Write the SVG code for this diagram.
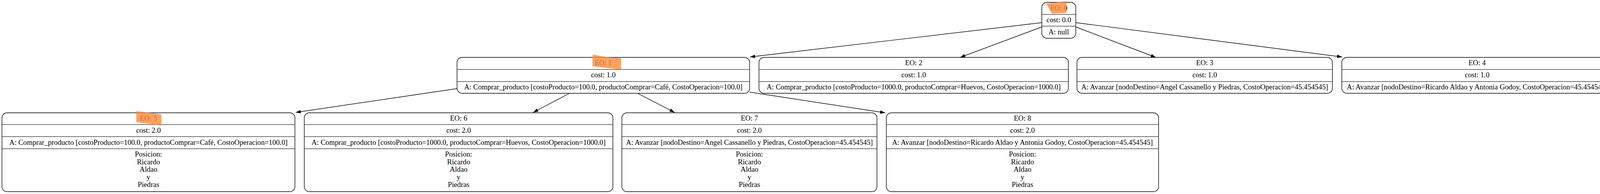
<svg xmlns="http://www.w3.org/2000/svg" width="4136" height="497" viewBox="0 0 4136 497">
<style>
.box{fill:#fff;stroke:#000;stroke-width:1.4}
.div{stroke:#444;stroke-width:1.6}
.t{font-family:"Liberation Serif","Times New Roman",serif;font-size:18.67px;fill:#000;text-anchor:middle}
.edge{stroke:#000;stroke-width:1.4;fill:none;marker-end:url(#arr)}
.hl{fill:#fb8b3a;fill-opacity:0.8;stroke:none}
</style>
<defs>
<marker id="arr" markerUnits="userSpaceOnUse" markerWidth="14" markerHeight="10" refX="13" refY="4.5" orient="auto">
<path d="M0,0 L13,4.5 L0,9 z" fill="#000"/>
</marker>
</defs>
<rect width="4136" height="497" fill="#fff"/>
<g id="connectors">
<line class="edge" x1="2667" y1="58" x2="1920" y2="146"/>
<line class="edge" x1="2667" y1="69" x2="2458" y2="147"/>
<line class="edge" x1="2754" y1="69" x2="2959" y2="147"/>
<line class="edge" x1="2754" y1="58" x2="3436" y2="146"/>
<line class="edge" x1="1170" y1="227" x2="757" y2="288"/>
<line class="edge" x1="1458" y1="239" x2="1365" y2="288"/>
<line class="edge" x1="1632" y1="239" x2="1727" y2="288"/>
<line class="edge" x1="1919" y1="236" x2="2266" y2="289"/>
</g>
<g id="node0">
<rect class="box" x="2667" y="6" width="87" height="92" rx="13"/>
<line class="div" x1="2667" y1="37" x2="2754" y2="37"/>
<line class="div" x1="2667" y1="67" x2="2754" y2="67"/>
<text class="t" x="2710.5" y="27">EO: 0</text>
<text class="t" x="2710.5" y="57">cost: 0.0</text>
<text class="t" x="2710.5" y="88">A: null</text>
<polygon class="hl" points="2678,9 2730,3 2730,33 2693,35"/>
</g>
<g id="node1">
<rect class="box" x="1170" y="147" width="749" height="92" rx="13"/>
<line class="div" x1="1170" y1="178" x2="1919" y2="178"/>
<line class="div" x1="1170" y1="209" x2="1919" y2="209"/>
<text class="t" x="1544.5" y="167">EO: 1</text>
<text class="t" x="1544.5" y="198">cost: 1.0</text>
<text class="t" x="1544.5" y="229">A: Comprar_producto [costoProducto=100.0, productoComprar=Café, CostoOperacion=100.0]</text>
<polygon class="hl" points="1517,140 1560,147 1590,149 1590,178 1517,170"/>
</g>
<g id="node2">
<rect class="box" x="1943" y="147" width="792" height="92" rx="13"/>
<line class="div" x1="1943" y1="178" x2="2735" y2="178"/>
<line class="div" x1="1943" y1="209" x2="2735" y2="209"/>
<text class="t" x="2339" y="167">EO: 2</text>
<text class="t" x="2339" y="198">cost: 1.0</text>
<text class="t" x="2339" y="229">A: Comprar_producto [costoProducto=1000.0, productoComprar=Huevos, CostoOperacion=1000.0]</text>
</g>
<g id="node3">
<rect class="box" x="2757" y="147" width="654" height="92" rx="13"/>
<line class="div" x1="2757" y1="178" x2="3411" y2="178"/>
<line class="div" x1="2757" y1="209" x2="3411" y2="209"/>
<text class="t" x="3084" y="167">EO: 3</text>
<text class="t" x="3084" y="198">cost: 1.0</text>
<text class="t" x="3084" y="229">A: Avanzar [nodoDestino=Angel Cassanello y Piedras, CostoOperacion=45.454545]</text>
</g>
<g id="node4">
<rect class="box" x="3435" y="147" width="693" height="92" rx="13"/>
<line class="div" x1="3435" y1="178" x2="4128" y2="178"/>
<line class="div" x1="3435" y1="209" x2="4128" y2="209"/>
<text class="t" x="3781.5" y="167">EO: 4</text>
<text class="t" x="3781.5" y="198">cost: 1.0</text>
<text class="t" x="3781.5" y="229">A: Avanzar [nodoDestino=Ricardo Aldao y Antonia Godoy, CostoOperacion=45.454545]</text>
</g>
<g id="node5">
<rect class="box" x="5" y="289" width="750" height="202" rx="13"/>
<line class="div" x1="5" y1="319" x2="755" y2="319"/>
<line class="div" x1="5" y1="350" x2="755" y2="350"/>
<line class="div" x1="5" y1="381" x2="755" y2="381"/>
<text class="t" x="380" y="309">EO: 5</text>
<text class="t" x="380" y="340">cost: 2.0</text>
<text class="t" x="380" y="371">A: Comprar_producto [costoProducto=100.0, productoComprar=Café, CostoOperacion=100.0]</text>
<text class="t" x="380" y="401">Posicion:</text>
<text class="t" x="380" y="420.6">Ricardo</text>
<text class="t" x="380" y="440.2">Aldao</text>
<text class="t" x="380" y="459.8">y</text>
<text class="t" x="380" y="479.4">Piedras</text>
<polygon class="hl" points="349,285 370,287 413,293 413,322 390,318 349,313"/>
</g>
<g id="node6">
<rect class="box" x="779" y="289" width="790" height="202" rx="13"/>
<line class="div" x1="779" y1="319" x2="1569" y2="319"/>
<line class="div" x1="779" y1="350" x2="1569" y2="350"/>
<line class="div" x1="779" y1="381" x2="1569" y2="381"/>
<text class="t" x="1174" y="309">EO: 6</text>
<text class="t" x="1174" y="340">cost: 2.0</text>
<text class="t" x="1174" y="371">A: Comprar_producto [costoProducto=1000.0, productoComprar=Huevos, CostoOperacion=1000.0]</text>
<text class="t" x="1174" y="401">Posicion:</text>
<text class="t" x="1174" y="420.6">Ricardo</text>
<text class="t" x="1174" y="440.2">Aldao</text>
<text class="t" x="1174" y="459.8">y</text>
<text class="t" x="1174" y="479.4">Piedras</text>
</g>
<g id="node7">
<rect class="box" x="1592" y="289" width="653" height="202" rx="13"/>
<line class="div" x1="1592" y1="319" x2="2245" y2="319"/>
<line class="div" x1="1592" y1="350" x2="2245" y2="350"/>
<line class="div" x1="1592" y1="381" x2="2245" y2="381"/>
<text class="t" x="1918.5" y="309">EO: 7</text>
<text class="t" x="1918.5" y="340">cost: 2.0</text>
<text class="t" x="1918.5" y="371">A: Avanzar [nodoDestino=Angel Cassanello y Piedras, CostoOperacion=45.454545]</text>
<text class="t" x="1918.5" y="401">Posicion:</text>
<text class="t" x="1918.5" y="420.6">Ricardo</text>
<text class="t" x="1918.5" y="440.2">Aldao</text>
<text class="t" x="1918.5" y="459.8">y</text>
<text class="t" x="1918.5" y="479.4">Piedras</text>
</g>
<g id="node8">
<rect class="box" x="2269" y="289" width="697" height="202" rx="13"/>
<line class="div" x1="2269" y1="319" x2="2966" y2="319"/>
<line class="div" x1="2269" y1="350" x2="2966" y2="350"/>
<line class="div" x1="2269" y1="381" x2="2966" y2="381"/>
<text class="t" x="2617.5" y="309">EO: 8</text>
<text class="t" x="2617.5" y="340">cost: 2.0</text>
<text class="t" x="2617.5" y="371">A: Avanzar [nodoDestino=Ricardo Aldao y Antonia Godoy, CostoOperacion=45.454545]</text>
<text class="t" x="2617.5" y="401">Posicion:</text>
<text class="t" x="2617.5" y="420.6">Ricardo</text>
<text class="t" x="2617.5" y="440.2">Aldao</text>
<text class="t" x="2617.5" y="459.8">y</text>
<text class="t" x="2617.5" y="479.4">Piedras</text>
</g>
</svg>
